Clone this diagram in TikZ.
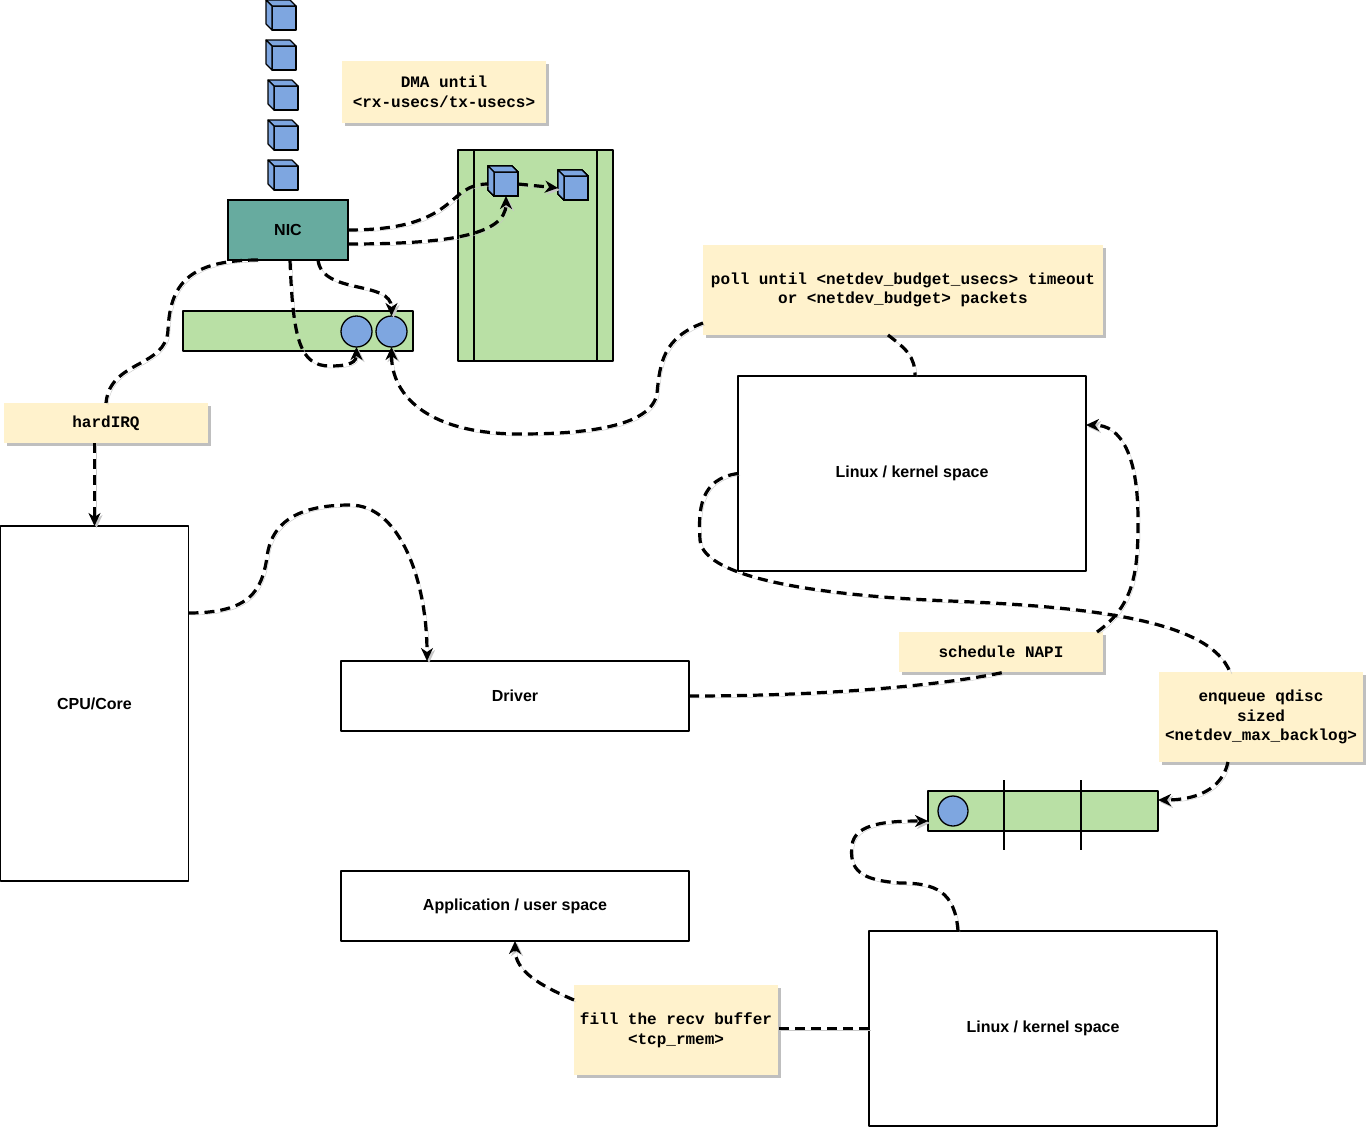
\documentclass[tikz,border=0pt]{standalone}
\usepackage{fontspec}
\setsansfont{Liberation Sans}
\setmonofont{Liberation Mono}
\usetikzlibrary{arrows.meta,shadows}
\definecolor{nicgreen}{HTML}{67AB9F}
\definecolor{bufgreen}{HTML}{B9E0A5}
\definecolor{pktblue}{HTML}{7EA6E0}
\definecolor{notefill}{HTML}{FFF2CC}
\begin{document}
\begin{tikzpicture}[x=1pt, y=-1pt, line join=round, >={Stealth[length=13pt,width=12pt,inset=4pt]},
	box/.style={draw, line width=1.1pt, fill=white, inner sep=0pt, outer sep=0pt, font=\sffamily\bfseries\fontsize{16}{19}\selectfont},
	note/.style={fill=notefill, inner sep=0pt, outer sep=0pt, align=center, drop shadow={shadow xshift=3pt, shadow yshift=-3pt, fill=black!25, opacity=1}, font=\ttfamily\bfseries\fontsize{16}{19.5}\selectfont},
	buf/.style={draw, line width=1.1pt, fill=bufgreen, inner sep=0pt, outer sep=0pt},
	pkt/.style={draw, line width=1.1pt, fill=pktblue, minimum size=24pt, inner sep=0pt, outer sep=0pt},
	slot/.style={circle, draw, line width=1.3pt, fill=pktblue, minimum size=31pt, inner sep=0pt, outer sep=0pt},
	flow/.style={line width=3.2pt, dash pattern=on 10pt off 6pt, preaction={draw=black!22, transform canvas={shift={(2pt,-2pt)}}}}]
		\path[use as bounding box, fill=white] (0,0) rectangle (1367,1127);
		\def\pkt#1#2#3{%
			\node[pkt] (#1) at (#2+18,#3+18) {};
			\filldraw[fill=pktblue, line width=1.1pt] (#1.north west) -- ++(-6,-6) -- ++(24,0) -- (#1.north east) -- cycle;
			\filldraw[fill=pktblue, line width=1.1pt] (#1.north west) -- ++(-6,-6) -- ++(0,24) -- (#1.south west) -- cycle;}
		% ring buffer and rx queue
		\node[buf, minimum width=155pt, minimum height=211pt] (ring) at (535.5,255.5) {};
		\draw[line width=1.1pt] (ring.north west) ++(16,0) -- ++(0,211);
		\draw[line width=1.1pt] (ring.north east) ++(-16,0) -- ++(0,211);
		\node[buf, minimum width=230pt, minimum height=40pt] (q1) at (298,331) {};
		\node[slot] (c1) at (356.5,331.5) {};
		\node[slot] (c2) at (391.5,331.5) {};
		\node[buf, minimum width=230pt, minimum height=40pt] (q2) at (1043,811) {};
		\node[slot, minimum size=30pt] (c3) at (953,811) {};
		\foreach \x in {1004,1081} \draw[line width=1.3pt] (\x,780) -- (\x,850);
		% packets
		\foreach \n/\x/\y in {1/266/0, 2/266/40, 3/268/80, 4/268/120, 5/268/160} \pkt{s\n}{\x}{\y}
		\pkt{pa}{488}{166}
		\pkt{pb}{558}{170}
		% boxes
		\node[box, fill=nicgreen, minimum width=120pt, minimum height=60pt] (nic) at (288,230) {NIC};
		\node[box, minimum width=188pt, minimum height=355pt] (cpu) at (94.5,703.5) {CPU/Core};
		\node[box, minimum width=348pt, minimum height=70pt] (drv) at (515,696) {Driver};
		\node[box, minimum width=348pt, minimum height=70pt] (app) at (515,906) {Application / user space};
		\node[box, minimum width=348pt, minimum height=195pt] (lk1) at (912,473.5) {Linux / kernel space};
		\node[box, minimum width=348pt, minimum height=195pt] (lk2) at (1043,1028.5) {Linux / kernel space};
		% notes
		\node[note, minimum width=204pt, minimum height=62pt] (dma) at (444,92) {DMA until\\<rx-usecs/tx-usecs>};
		\node[note, minimum width=400pt, minimum height=90pt] (poll) at (903,290) {poll until <netdev\_budget\_usecs> timeout\\or <netdev\_budget> packets};
		\node[note, minimum width=204pt, minimum height=40pt] (irq) at (106,423) {hardIRQ};
		\node[note, minimum width=204pt, minimum height=40pt] (napi) at (1001,652) {schedule NAPI};
		\node[note, minimum width=204pt, minimum height=90pt] (enq) at (1261,717) {enqueue qdisc\\sized\\<netdev\_max\_backlog>};
		\node[note, minimum width=204pt, minimum height=90pt] (rbuf) at (676,1030) {fill the recv buffer\\<tcp\_rmem>};
		% flows
		\draw[flow] (nic.east) .. controls +(112,0) and +(-43,0) .. ([xshift=-6pt]pa.west);
		\draw[flow,->] ([yshift=-14pt]nic.east) .. controls +(95,0) and +(0,40) .. (pa.south);
		\draw[flow,->] (pa.east) -- ([xshift=-6pt]pb.west);
		\draw[flow] ([xshift=-30pt]nic.south) .. controls +(-70,0) and +(2,-45) .. (168,330) .. controls +(-2,38) and +(4,-43) .. (irq.north);
		\draw[flow,->] (cpu.north |- irq.south) -- (cpu.north);
		\draw[flow,->] ([xshift=2pt]nic.south) .. controls +(3,80) and +(-30,0) .. (330,366) .. controls +(20,0) and +(0,15) .. (c1.south);
		\draw[flow,->] ([xshift=30pt]nic.south) .. controls +(4,35) and +(0,-36) .. (c2.north);
		\draw[flow,->] ([yshift=-33pt]poll.west) .. controls +(-40,15) and +(3,-30) .. (657,393) .. controls +(-5,35) and +(60,0) .. (520,434) .. controls +(-90,0) and +(0,50) .. (c2.south);
		\draw[flow] ([xshift=-15pt]poll.south) .. controls +(18,14) and +(0,-20) .. ([xshift=3pt]lk1.north);
		\draw[flow] (lk1.west) .. controls +(-38,5) and +(-2,-30) .. (700,540) .. controls +(3,40) and +(-120,-5) .. (950,601) .. controls +(150,6) and +(-20,-50) .. ([xshift=-31pt]enq.north);
		\draw[flow,->] ([xshift=-6pt]napi.north east) .. controls +(38,-27) and +(0,50) .. (1138,520) .. controls +(0,-65) and +(35,0) .. ([yshift=48.5pt]lk1.east);
		\draw[flow] (drv.east) .. controls +(160,0) and +(-45,10) .. ([xshift=4pt]napi.south);
		\draw[flow,->] ([yshift=90.5pt]cpu.east) .. controls +(62,0) and +(-5,33) .. (267,557) .. controls +(5,-42) and +(-40,0) .. (350,505) .. controls +(50,0) and +(0,-80) .. ([xshift=-88pt]drv.north);
		\draw[flow,->] ([xshift=-33pt]enq.south) .. controls +(-6,28) and +(37,0) .. ([yshift=11pt]q2.east);
		\draw[flow,->] ([xshift=-85pt]lk2.north) .. controls +(-3,-40) and +(35,0) .. (900,883) .. controls +(-40,-3) and +(-3,25) .. (852,845) .. controls +(3,-22) and +(-40,0) .. ([yshift=-10pt]q2.west);
		\draw[flow] (lk2.west) -- (lk2.west -| rbuf.east);
		\draw[flow,->] ([yshift=-15pt]rbuf.north west) .. controls +(-35,-15) and +(0,30) .. (app.south);
\end{tikzpicture}
\end{document}
